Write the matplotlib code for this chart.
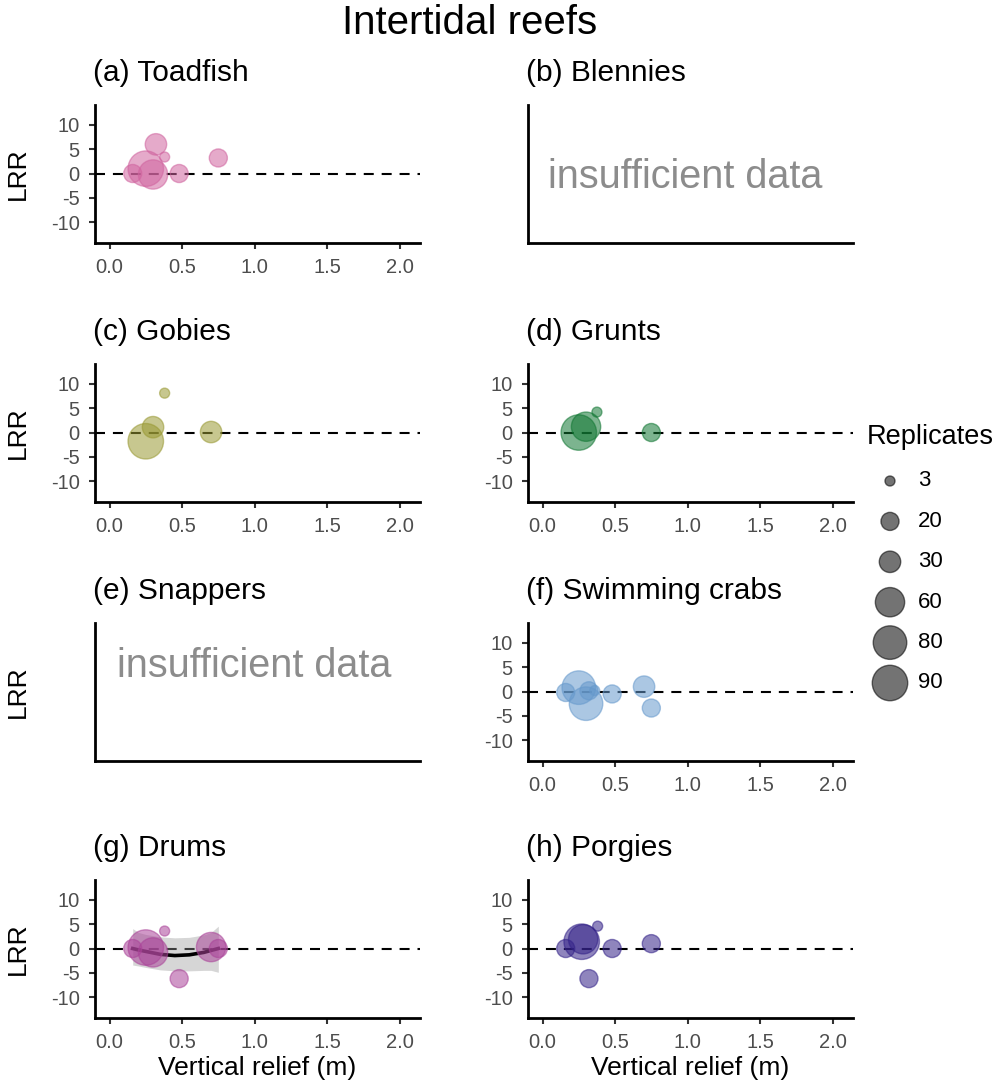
import numpy as np
import matplotlib
matplotlib.use("Agg")
import matplotlib.pyplot as plt

plt.rcParams['font.family'] = ['Liberation Sans', 'DejaVu Sans']
plt.rcParams['axes.unicode_minus'] = False

# relief (m), log response ratio and number of replicates for each group
toadfish_x = [0.16, 0.25, 0.30, 0.32, 0.38, 0.48, 0.75]
toadfish_lrr = [0.0, 1.0, -0.2, 6.0, 3.4, 0.0, 3.2]
toadfish_n = [20, 90, 60, 30, 3, 20, 20]

gobies_x = [0.25, 0.30, 0.38, 0.70]
gobies_lrr = [-1.8, 1.1, 8.1, 0.1]
gobies_n = [90, 30, 3, 30]

grunts_x = [0.25, 0.30, 0.375, 0.75]
grunts_lrr = [0.0, 1.2, 4.2, 0.0]
grunts_n = [90, 60, 3, 20]

crabs_x = [0.16, 0.25, 0.30, 0.32, 0.36, 0.48, 0.70, 0.75]
crabs_lrr = [-0.2, 0.8, -2.5, 0.15, 0.2, -0.5, 1.0, -3.4]
crabs_n = [20, 80, 80, 20, 3, 20, 30, 20]

drums_x = [0.16, 0.25, 0.30, 0.38, 0.48, 0.70, 0.75]
drums_lrr = [0.0, 0.2, -0.8, 3.6, -6.2, 0.3, 0.0]
drums_n = [20, 90, 60, 3, 20, 60, 20]

porgies_x = [0.16, 0.27, 0.28, 0.32, 0.38, 0.48, 0.75]
porgies_lrr = [0.0, 1.4, 1.9, -6.2, 4.6, 0.0, 1.0]
porgies_n = [20, 90, 60, 20, 3, 20, 20]

# quadratic fit for drums
drums_fit_x = [0.16, 0.20, 0.25, 0.35, 0.45, 0.55, 0.65, 0.70, 0.75]
drums_fit_y = [0.0, -0.3, -0.6, -1.2, -1.45, -1.3, -0.8, -0.4, 0.0]
drums_fit_lo = [-3.4, -3.6, -3.9, -4.4, -4.6, -4.6, -4.5, -4.5, -4.9]
drums_fit_hi = [4.1, 3.3, 2.9, 2.4, 2.2, 2.3, 2.8, 3.3, 4.6]

legend_n = [3, 20, 30, 60, 80, 90]

x_ticks = [0.0, 0.5, 1.0, 1.5, 2.0]
y_ticks = [-10, -5, 0, 5, 10]


def size(n):
    return 52 + (np.asarray(n, dtype=float) - 3) * 6.9


W, H = 1001, 1092
fig = plt.figure(figsize=(W / 100, H / 100), dpi=100)

col_left = [95, 528]
ax_w = 325
row_top = [105, 364, 623, 880]
ax_h = 138

panels = [
    ("(a) Toadfish", toadfish_x, toadfish_lrr, toadfish_n, "#D0649F"),
    ("(b) Blennies", None, None, None, None),
    ("(c) Gobies", gobies_x, gobies_lrr, gobies_n, "#999933"),
    ("(d) Grunts", grunts_x, grunts_lrr, grunts_n, "#117733"),
    ("(e) Snappers", None, None, None, None),
    ("(f) Swimming crabs", crabs_x, crabs_lrr, crabs_n, "#6699CC"),
    ("(g) Drums", drums_x, drums_lrr, drums_n, "#AA4499"),
    ("(h) Porgies", porgies_x, porgies_lrr, porgies_n, "#332288"),
]

for i, (title, xs, ys, ns, color) in enumerate(panels):
    r, c = divmod(i, 2)
    left = col_left[c]
    top = row_top[r]
    ax = fig.add_axes([left / W, 1 - (top + ax_h) / H, ax_w / W, ax_h / H])
    ax.spines['top'].set_visible(False)
    ax.spines['right'].set_visible(False)
    ax.spines['left'].set_linewidth(2.0)
    ax.spines['bottom'].set_linewidth(2.0)
    ax.set_xlim(-0.1, 2.14)
    ax.set_ylim(-14.3, 14.1)
    ax.text(-0.005, 1 + 32 / ax_h, title, transform=ax.transAxes,
            ha='left', va='center', fontsize=21.5)
    if c == 0:
        fig.text(18 / W, 1 - (top + ax_h / 2) / H, "LRR", rotation=90,
                 ha='center', va='center', fontsize=19)
    if xs is None:
        ax.set_xticks([])
        ax.set_yticks([])
        tx, ty = (0.485, 0.48) if i == 1 else (0.49, 0.69)
        ax.text(tx, ty, "insufficient data", transform=ax.transAxes,
                ha='center', va='center', fontsize=28.5, color='#8c8c8c')
        continue

    ax.axhline(0, color='black', lw=1.5, linestyle=(0, (4.8, 3.8)), zorder=1)
    if title.endswith("Drums"):
        ax.fill_between(drums_fit_x, drums_fit_lo, drums_fit_hi,
                        color='#999999', alpha=0.4, lw=0, zorder=2)
        ax.plot(drums_fit_x, drums_fit_y, color='black', lw=2.6, zorder=3)
    ax.scatter(xs, ys, s=size(ns), color=color, alpha=0.55, lw=1.0, zorder=4)

    ax.set_xticks(x_ticks)
    ax.set_xticklabels(["%.1f" % t for t in x_ticks])
    ax.set_yticks(y_ticks)
    ax.tick_params(direction='out', length=4, width=1.5, color='#333333',
                   labelcolor='#4D4D4D', labelsize=14.5, pad=7)
    if r == 3:
        ax.set_xlabel("Vertical relief (m)", fontsize=19, labelpad=3)

fig.text(470 / W, 1 - 23 / H, "Intertidal reefs", ha='center', va='center',
         fontsize=29)

# size legend
leg = fig.add_axes([860 / W, 1 - 710 / H, 141 / W, 290 / H])
leg.set_xlim(860, 1001)
leg.set_ylim(710, 420)
leg.axis('off')
leg.text(867, 437, "Replicates", ha='left', va='center', fontsize=19.5)
ly = 481 + 40.4 * np.arange(len(legend_n))
leg.scatter(np.full(len(legend_n), 890), ly, s=size(legend_n),
            color='black', alpha=0.55, lw=1.0, clip_on=False)
for yy, n in zip(ly, legend_n):
    leg.text(918, yy, str(n), ha='left', va='center', fontsize=16)

fig.savefig("out.png", dpi=100)
